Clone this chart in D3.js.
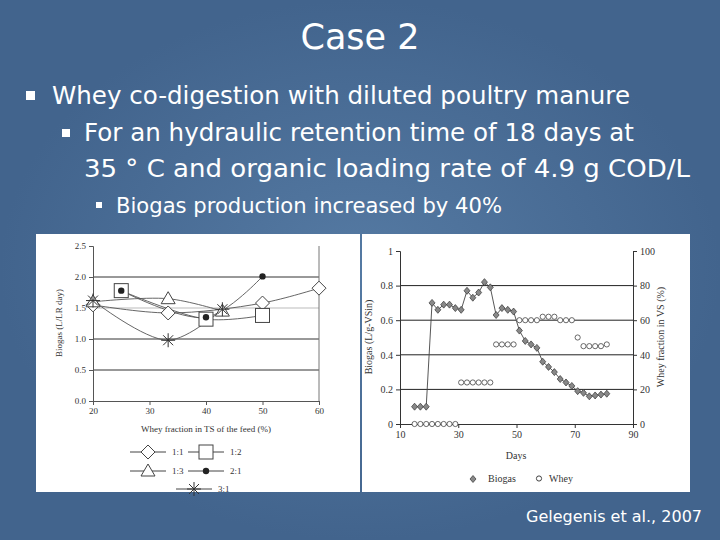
<!DOCTYPE html><html><head><meta charset="utf-8">
<script src="https://cdn.jsdelivr.net/npm/d3@7"></script>
<style>body{margin:0;background:#4b6f99}svg{display:block}</style></head><body>
<svg id="s" width="720" height="540"></svg>
<script>
// Left chart data
const leftXTicks=[20,30,40,50,60];
const leftYTicks=[0.0,0.5,1.0,1.5,2.0,2.5];
const s11=[[20,1.55],[33.3,1.42],[50,1.58],[60,1.82]];
const s12=[[25,1.78],[40,1.32],[50,1.38]];
const s13=[[20,1.6],[33.3,1.65],[42.9,1.45]];
const s21=[[25,1.78],[40,1.35],[50,2.01]];
const s31=[[20,1.62],[33.3,0.98],[42.9,1.48]];
// Right chart data
const days=[15,17,19,21,23,25,27,29,31,33,35,37,39,41,43,45,47,49,51,53,55,57,59,61,63,65,67,69,71,73,75,77,79,81];
const biogas=[.10,.10,.10,.70,.66,.69,.69,.67,.66,.77,.73,.76,.82,.79,.63,.67,.66,.65,.54,.48,.46,.44,.36,.33,.30,.26,.24,.22,.19,.18,.16,.165,.17,.175];
const whey=[0,0,0,0,0,0,0,0,24,24,24,24,24,24,46,46,46,46,60,60,60,60,62,62,62,60,60,60,50,45,45,45,45,46];
const rightXTicks=[10,30,50,70,90];
const rightYTicks=[0,0.2,0.4,0.6,0.8,1];
const rightY2Ticks=[0,20,40,60,80,100];

const svg=d3.select("#s");
const defs=svg.append("defs");
const g=defs.append("radialGradient").attr("id","bg");
g.append("stop").attr("offset","0").attr("stop-color","#557aa3");
g.append("stop").attr("offset","1").attr("stop-color","#42648d");
svg.append("rect").attr("width",720).attr("height",540).attr("fill","url(#bg)");
const F="DejaVu Sans, Verdana, sans-serif";
svg.append("text").attr("x",360).attr("y",49).attr("text-anchor","middle").attr("fill","#fff").attr("font-family",F).attr("font-size",35).text("Case 2");
function bullet(x,y,sz){svg.append("rect").attr("x",x).attr("y",y).attr("width",sz).attr("height",sz).attr("fill","#fff");}
function txt(x,y,sz,len,t){svg.append("text").attr("x",x).attr("y",y).attr("fill","#fff").attr("font-family",F).attr("font-size",sz).attr("textLength",len).attr("lengthAdjust","spacingAndGlyphs").text(t);}
bullet(26,91,9);
txt(52,104,24.5,578,"Whey co-digestion with diluted poultry manure");
bullet(62,129,8);
txt(84,141,24.5,550,"For an hydraulic retention time of 18 days at");
txt(84,177,24.5,606,"35 ° C and organic loading rate of 4.9 g COD/L");
bullet(96,202,6);
txt(116,213,20.5,386,"Biogas production increased by 40%");
svg.append("text").attr("x",702).attr("y",522).attr("text-anchor","end").attr("fill","#fff").attr("font-family",F).attr("font-size",16).text("Gelegenis et al., 2007");

const T="Liberation Serif, Times New Roman, serif";
svg.append("rect").attr("x",36).attr("y",234).attr("width",324).attr("height",258).attr("fill","#fff");
const L=svg.append("g");
const lx=d3.scaleLinear().domain([20,60]).range([93,319]);
const ly=d3.scaleLinear().domain([0,2.5]).range([401,246]);
leftYTicks.filter(v=>v>0&&v<2.5).forEach(v=>L.append("line").attr("x1",93).attr("x2",319).attr("y1",ly(v)).attr("y2",ly(v)).attr("stroke",v==1.5?"#bbb":"#333").attr("stroke-width",1));
L.append("line").attr("x1",319).attr("x2",319).attr("y1",246).attr("y2",401).attr("stroke","#777");
const lax=L.append("g").attr("transform","translate(0,401)").call(d3.axisBottom(lx).tickValues(leftXTicks).tickSize(4).tickFormat(d3.format("d")));
const lay=L.append("g").attr("transform","translate(93,0)").call(d3.axisLeft(ly).tickValues(leftYTicks).tickSize(4).tickFormat(d3.format(".1f")));
[lax,lay].forEach(a=>{a.selectAll("text").attr("font-family",T).attr("font-size",9).attr("fill","#333");a.selectAll("path,line").attr("stroke","#555");});
L.append("text").attr("x",206).attr("y",432).attr("text-anchor","middle").attr("font-family",T).attr("font-size",9).attr("fill","#333").text("Whey fraction in TS of the feed (%)");
L.append("text").attr("transform","translate(62,323) rotate(-90)").attr("text-anchor","middle").attr("font-family",T).attr("font-size",9).attr("fill","#333").text("Biogas (L/LR day)");
const line=d3.line().x(d=>lx(d[0])).y(d=>ly(d[1])).curve(d3.curveCatmullRom);
[s11,s12,s13,s21,s31].forEach(sr=>L.append("path").attr("d",line(sr)).attr("fill","none").attr("stroke","#555").attr("stroke-width",0.9));
function mark(gp,type,x,y){
  if(type=="d")gp.append("path").attr("d",`M${x},${y-7}L${x+7},${y}L${x},${y+7}L${x-7},${y}Z`).attr("fill","#fff").attr("stroke","#444");
  if(type=="s")gp.append("rect").attr("x",x-7).attr("y",y-7).attr("width",14).attr("height",14).attr("fill","#fff").attr("stroke","#444");
  if(type=="t")gp.append("path").attr("d",`M${x},${y-7}L${x+7},${y+5}L${x-7},${y+5}Z`).attr("fill","#fff").attr("stroke","#444");
  if(type=="c")gp.append("circle").attr("cx",x).attr("cy",y).attr("r",3.2).attr("fill","#222");
  if(type=="x"){gp.append("path").attr("d",`M${x-7},${y}H${x+7}M${x-5},${y-5}L${x+5},${y+5}M${x-5},${y+5}L${x+5},${y-5}M${x},${y-7}V${y+7}`).attr("stroke","#333");}
}
[[s11,"d"],[s12,"s"],[s13,"t"],[s21,"c"],[s31,"x"]].forEach(([sr,t])=>sr.forEach(d=>mark(L,t,lx(d[0]),ly(d[1]))));
const leg=[["d","1:1",152,452],["s","1:2",210,452],["t","1:3",152,471],["c","2:1",210,471],["x","3:1",198,489]];
leg.forEach(([t,lab,x,y])=>{L.append("line").attr("x1",x-22).attr("x2",x+14).attr("y1",y).attr("y2",y).attr("stroke","#444");mark(L,t,x-4,y);L.append("text").attr("x",x+20).attr("y",y+3).attr("font-family",T).attr("font-size",9).attr("fill","#333").text(lab);});

svg.append("rect").attr("x",362).attr("y",234).attr("width",328).attr("height",258).attr("fill","#fff");
const R=svg.append("g");
const rx=d3.scaleLinear().domain([10,90]).range([400,633]);
const ry=d3.scaleLinear().domain([0,1]).range([424,251]);
const ry2=d3.scaleLinear().domain([0,100]).range([424,251]);
rightYTicks.filter(v=>v>0&&v<1).forEach(v=>R.append("line").attr("x1",400).attr("x2",633).attr("y1",ry(v)).attr("y2",ry(v)).attr("stroke","#222"));
const rax=R.append("g").attr("transform","translate(0,424)").call(d3.axisBottom(rx).tickValues(rightXTicks).tickSize(4).tickFormat(d3.format("d")));
const ray=R.append("g").attr("transform","translate(400,0)").call(d3.axisLeft(ry).tickValues(rightYTicks).tickSize(4).tickFormat(d=>d==0||d==1?d:d3.format(".1f")(d)));
const ray2=R.append("g").attr("transform","translate(633,0)").call(d3.axisRight(ry2).tickValues(rightY2Ticks).tickSize(4));
[rax,ray,ray2].forEach(a=>{a.selectAll("text").attr("font-family",T).attr("font-size",10).attr("fill","#333");a.selectAll("path,line").attr("stroke","#333");});
R.append("text").attr("x",516).attr("y",459).attr("text-anchor","middle").attr("font-family",T).attr("font-size",10).attr("fill","#333").text("Days");
R.append("text").attr("transform","translate(372,337) rotate(-90)").attr("text-anchor","middle").attr("font-family",T).attr("font-size",10).attr("fill","#333").text("Biogas (L/g-VSin)");
R.append("text").attr("transform","translate(664,337) rotate(-90)").attr("text-anchor","middle").attr("font-family",T).attr("font-size",10).attr("fill","#333").text("Whey fraction in VS (%)");
R.append("path").attr("d",d3.line().x((d,i)=>rx(days[i])).y(d=>ry(d))(biogas)).attr("fill","none").attr("stroke","#444").attr("stroke-width",0.9);
biogas.forEach((v,i)=>{const x=rx(days[i]),y=ry(v);R.append("path").attr("d",`M${x},${y-3.5}L${x+3}, ${y}L${x},${y+3.5}L${x-3},${y}Z`).attr("fill","#888").attr("stroke","#333").attr("stroke-width",0.7);});
whey.forEach((v,i)=>R.append("circle").attr("cx",rx(days[i])).attr("cy",ry2(v)).attr("r",2.6).attr("fill","#fff").attr("stroke","#444").attr("stroke-width",0.8));
R.append("path").attr("d","M473,475.5l3,3.5l-3,3.5l-3,-3.5Z").attr("fill","#888").attr("stroke","#333").attr("stroke-width",0.7);
R.append("text").attr("x",488).attr("y",482).attr("font-family",T).attr("font-size",10).attr("fill","#333").text("Biogas");
R.append("circle").attr("cx",539).attr("cy",478.5).attr("r",2.6).attr("fill","#fff").attr("stroke","#444");
R.append("text").attr("x",549).attr("y",482).attr("font-family",T).attr("font-size",10).attr("fill","#333").text("Whey");
</script></body></html>
